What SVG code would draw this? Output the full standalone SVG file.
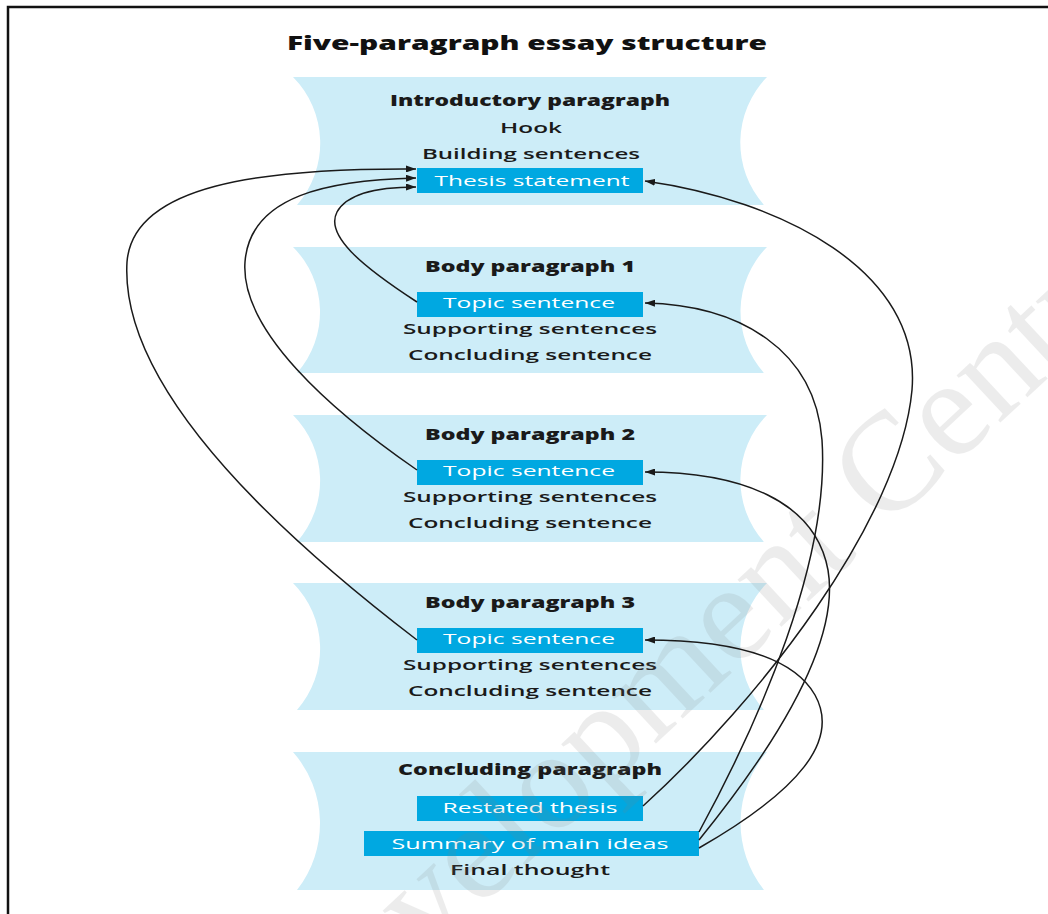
<svg xmlns="http://www.w3.org/2000/svg" width="1048" height="914" viewBox="0 0 1048 914">
<style>
.blk{fill:#cdedf8}
.box{fill:#00a8e1}
.t{font-family:"Open Sans","DejaVu Sans",sans-serif;font-size:15px;font-weight:600;fill:#1a1a1a;text-anchor:middle}
.b{font-weight:800}
.w{fill:#ffffff;font-weight:normal}
.ttl{font-family:"Open Sans","DejaVu Sans",sans-serif;font-size:19px;font-weight:800;fill:#111;text-anchor:middle}
.c{fill:none;stroke:#1a1a1a;stroke-width:1.5;marker-end:url(#ah)}
</style>
<defs>
<marker id="ah" markerUnits="userSpaceOnUse" markerWidth="10" markerHeight="7" refX="10" refY="3.5" orient="auto">
<path d="M0,0 L10,3.5 L0,7 z" fill="#1a1a1a"/>
</marker>
</defs>
<rect width="1048" height="914" fill="#ffffff"/>
<path d="M8,914 V7 H1048" fill="none" stroke="#111" stroke-width="2.5"/>
<text class="ttl" x="527" y="50" textLength="480" lengthAdjust="spacingAndGlyphs">Five-paragraph essay structure</text>

<g id="intro">
<path class="blk" d="M293,77 H767 A94 94 0 0 0 764,205 H297 A94 94 0 0 0 293,77 Z"/>
<text class="t b" x="530" y="106" textLength="280" lengthAdjust="spacingAndGlyphs">Introductory paragraph</text>
<text class="t" x="531" y="133" textLength="62" lengthAdjust="spacingAndGlyphs">Hook</text>
<text class="t" x="531" y="159" textLength="218" lengthAdjust="spacingAndGlyphs">Building sentences</text>
<rect class="box" x="417" y="168" width="226" height="25"/>
<text class="t w" x="532" y="186" textLength="195" lengthAdjust="spacingAndGlyphs">Thesis statement</text>
</g>

<g id="body1">
<path class="blk" d="M293,247 H767 A92 92 0 0 0 764,373 H297 A92 92 0 0 0 293,247 Z"/>
<text class="t b" x="530" y="272" textLength="210" lengthAdjust="spacingAndGlyphs">Body paragraph 1</text>
<rect class="box" x="417" y="292" width="226" height="25"/>
<text class="t w" x="529" y="308" textLength="172" lengthAdjust="spacingAndGlyphs">Topic sentence</text>
<text class="t" x="530" y="334" textLength="254" lengthAdjust="spacingAndGlyphs">Supporting sentences</text>
<text class="t" x="530" y="360" textLength="244" lengthAdjust="spacingAndGlyphs">Concluding sentence</text>
</g>

<g id="body2">
<path class="blk" d="M293,415 H767 A93 93 0 0 0 764,542 H297 A93 93 0 0 0 293,415 Z"/>
<text class="t b" x="530" y="440" textLength="210" lengthAdjust="spacingAndGlyphs">Body paragraph 2</text>
<rect class="box" x="417" y="460" width="226" height="25"/>
<text class="t w" x="529" y="476" textLength="172" lengthAdjust="spacingAndGlyphs">Topic sentence</text>
<text class="t" x="530" y="502" textLength="254" lengthAdjust="spacingAndGlyphs">Supporting sentences</text>
<text class="t" x="530" y="528" textLength="244" lengthAdjust="spacingAndGlyphs">Concluding sentence</text>
</g>

<g id="body3">
<path class="blk" d="M293,583 H767 A93 93 0 0 0 764,710 H297 A93 93 0 0 0 293,583 Z"/>
<text class="t b" x="530" y="608" textLength="210" lengthAdjust="spacingAndGlyphs">Body paragraph 3</text>
<rect class="box" x="417" y="628" width="226" height="25"/>
<text class="t w" x="529" y="644" textLength="172" lengthAdjust="spacingAndGlyphs">Topic sentence</text>
<text class="t" x="530" y="670" textLength="254" lengthAdjust="spacingAndGlyphs">Supporting sentences</text>
<text class="t" x="530" y="696" textLength="244" lengthAdjust="spacingAndGlyphs">Concluding sentence</text>
</g>

<g id="conclusion">
<path class="blk" d="M293,752 H767 A108 108 0 0 0 764,890 H297 A108 108 0 0 0 293,752 Z"/>
<text class="t b" x="530" y="775" textLength="264" lengthAdjust="spacingAndGlyphs">Concluding paragraph</text>
<rect class="box" x="417" y="796" width="226" height="25"/>
<text class="t w" x="530" y="813" textLength="175" lengthAdjust="spacingAndGlyphs">Restated thesis</text>
<rect class="box" x="364" y="831" width="335" height="25"/>
<text class="t w" x="530" y="849" textLength="277" lengthAdjust="spacingAndGlyphs">Summary of main ideas</text>
<text class="t" x="530" y="875" textLength="160" lengthAdjust="spacingAndGlyphs">Final thought</text>
</g>

<g id="watermark" transform="translate(307,1069) rotate(-43)" opacity="0.14">
<text x="0" y="0" font-family="Liberation Serif, serif" font-size="140" fill="#808080">Development Centre</text>
</g>

<g id="connectors">
<path class="c" d="M417,302 C360,265 325,235 337,212 C348,192 380,187 416,187"/>
<path class="c" d="M417,470 C330,410 240,330 245,262 C250,195 330,180 416,178"/>
<path class="c" d="M417,640 C260,520 120,380 127,262 C133,185 260,168 416,169"/>
<path class="c" d="M643,806 C760,700 900,520 912,390 C922,270 780,200 645,181"/>
<path class="c" d="M699,832 C760,720 830,560 822,440 C815,350 740,305 645,303"/>
<path class="c" d="M699,840 C780,740 840,640 828,570 C815,500 740,472 645,472"/>
<path class="c" d="M699,848 C800,790 840,740 815,695 C792,655 730,640 645,640"/>
</g>
</svg>
